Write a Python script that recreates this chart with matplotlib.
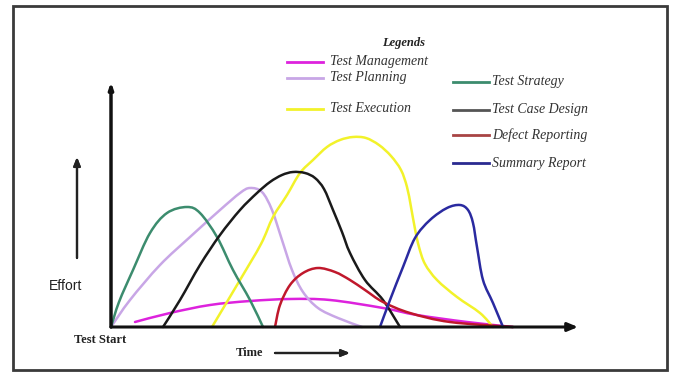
import matplotlib
matplotlib.use('Agg')
import matplotlib.pyplot as plt
import numpy as np
from matplotlib.patches import Rectangle, PathPatch
from matplotlib.path import Path
from matplotlib.lines import Line2D

W, H = 676, 373

# curves: time vs effort (units ~ pixels from the origin of the axes)
strategy_t = [0, 8, 22, 39, 56, 76, 89, 106, 122, 139, 152]
strategy_e = [0, 25, 57, 94, 114, 120, 114, 90, 57, 27, 0]

planning_t = [0, 19, 49, 79, 109, 129, 139, 151, 161, 171, 181, 192, 207, 227, 251]
planning_e = [0, 27, 62, 90, 117, 134, 139, 135, 117, 87, 57, 35, 19, 9, 0]

design_t = [52, 69, 89, 109, 129, 146, 159, 171, 182, 194, 204, 213, 222, 231, 239, 254, 272, 289]
design_e = [0, 27, 62, 92, 117, 134, 145, 152, 155, 154, 149, 138, 117, 95, 74, 47, 27, 0]

execution_t = [101, 129, 150, 162, 176, 189, 202, 216, 229, 242, 255, 268, 280, 290, 296,
               300, 304, 308, 314, 326, 346, 369, 382]
execution_e = [0, 47, 83, 110, 132, 154, 167, 180, 187, 190, 189, 182, 171, 157, 140,
               120, 98, 80, 63, 47, 30, 14, 0]

defect_t = [164, 169, 179, 192, 207, 224, 239, 254, 272, 299, 339, 402]
defect_e = [0, 22, 42, 54, 59, 55, 47, 37, 25, 14, 5, 0]

mgmt_t = [24, 59, 99, 139, 179, 219, 272, 306, 356, 402]
mgmt_e = [5, 14, 22, 26, 28, 27, 19, 12, 5, 0]

summary_t = [269, 279, 292, 304, 319, 336, 349, 357, 362, 366, 372, 382, 392]
summary_e = [0, 27, 60, 89, 107, 119, 122, 117, 104, 80, 47, 24, 0]

labels = ['Test Management', 'Test Planning', 'Test Execution',
          'Test Strategy', 'Test Case Design', 'Defect Reporting', 'Summary Report']
colors = ['#dd22dd', '#c8a6e6', '#f2f22a', '#3c8c6e', '#1a1a1a', '#c0182c', '#2a2aa0']
legend_colors = ['#dd22dd', '#c8a6e6', '#f2f22a', '#3c8c6e', '#555555', '#a84444', '#2a2a90']
series = [(mgmt_t, mgmt_e), (planning_t, planning_e), (execution_t, execution_e),
          (strategy_t, strategy_e), (design_t, design_e), (defect_t, defect_e),
          (summary_t, summary_e)]


def px(x, y):
    return x / W, 1 - y / H


def smooth_path(t, e):
    # bezier path through the points (catmull-rom style handles)
    p = np.column_stack([t, e]).astype(float)
    verts = [p[0]]
    codes = [Path.MOVETO]
    for i in range(len(p) - 1):
        a = p[i - 1] if i > 0 else p[i]
        b, c = p[i], p[i + 1]
        d = p[i + 2] if i + 2 < len(p) else p[i + 1]
        verts += [b + (c - a) / 6, c - (d - b) / 6, c]
        codes += [Path.CURVE4] * 3
    return Path(verts, codes)


fig = plt.figure(figsize=(W / 100, H / 100), dpi=100)

# outer frame
fig.patches.append(Rectangle(px(13, 370), (667 - 13) / W, (370 - 6) / H,
                             transform=fig.transFigure, fill=False,
                             edgecolor='#3a3a3a', linewidth=2))

x0, y0 = px(111, 327)
ax = fig.add_axes([x0, y0, (578 - 111) / W, (327 - 82) / H])
ax.set_xlim(0, 467)
ax.set_ylim(0, 245)
ax.axis('off')

for (t, e), c in zip(series, colors):
    ax.add_patch(PathPatch(smooth_path(t, e), fill=False, edgecolor=c,
                           linewidth=1.8, clip_on=False, capstyle='round'))

# axes with arrows
ax.annotate('', xy=(1, 0), xytext=(0, 0), xycoords='axes fraction',
            arrowprops=dict(arrowstyle='-|>,head_length=0.6,head_width=0.25',
                            color='#111111', lw=2.2, shrinkA=0, shrinkB=0))
ax.annotate('', xy=(0, 1), xytext=(0, 0), xycoords='axes fraction',
            arrowprops=dict(arrowstyle='-|>,head_length=0.35,head_width=0.12',
                            color='#111111', lw=2.5, shrinkA=0, shrinkB=0))

# side arrows
fig.add_artist(plt.annotate('', xy=px(77, 157), xytext=px(77, 258), xycoords='figure fraction',
                            arrowprops=dict(arrowstyle='-|>,head_length=0.5,head_width=0.2',
                                            color='#222222', lw=1.6, shrinkA=0, shrinkB=0)))
fig.add_artist(plt.annotate('', xy=px(350, 353), xytext=px(275, 353), xycoords='figure fraction',
                            arrowprops=dict(arrowstyle='-|>,head_length=0.5,head_width=0.2',
                                            color='#222222', lw=1.6, shrinkA=0, shrinkB=0)))

fig.text(*px(66, 286), 'Effort', family='Liberation Sans', fontsize=10,
         color='#222222', ha='center', va='center')
fig.text(*px(100, 340), 'Test Start', family='Liberation Serif', fontsize=9,
         weight='bold', color='#222222', ha='center', va='center')
fig.text(*px(250, 353), 'Time', family='Liberation Serif', fontsize=9,
         weight='bold', color='#222222', ha='center', va='center')

# legend
fig.text(*px(404, 43), 'Legends', family='Liberation Serif', fontsize=9,
         style='italic', weight='bold', color='#222222', ha='center', va='center')
leg_pos = [(287, 62), (287, 78), (287, 109), (453, 82), (453, 110), (453, 135), (453, 163)]
for lab, c, (lx, ly) in zip(labels, legend_colors, leg_pos):
    xa, ya = px(lx, ly)
    xb, _ = px(lx + 36, ly)
    fig.add_artist(Line2D([xa, xb], [ya, ya], color=c, linewidth=2,
                          transform=fig.transFigure))
    tx = lx + 43 if lx < 400 else lx + 39
    fig.text(*px(tx, ly), lab, family='Liberation Serif', fontsize=10,
             style='italic', color='#333333', ha='left', va='center')

fig.savefig('out.png', dpi=100)
